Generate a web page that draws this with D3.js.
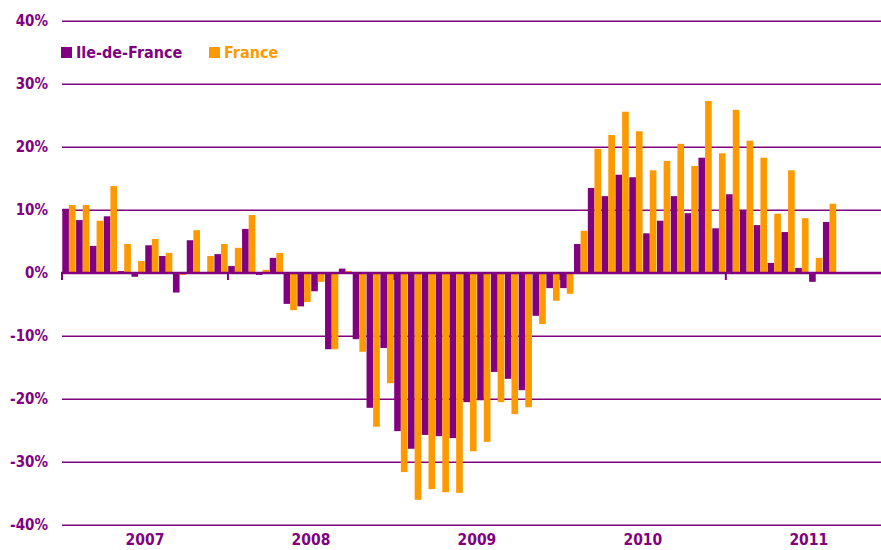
<!DOCTYPE html>
<html><head><meta charset="utf-8">
<script src="https://cdn.jsdelivr.net/npm/d3@7"></script>
<style>body{margin:0;background:#fff}svg{display:block}text{font-family:"DejaVu Sans Condensed","DejaVu Sans",sans-serif;font-weight:bold}</style>
</head><body>
<svg id="c" width="881" height="550"></svg>
<script>
const categories = [
 "2007-01","2007-02","2007-03","2007-04","2007-05","2007-06","2007-07","2007-08","2007-09","2007-10","2007-11","2007-12",
 "2008-01","2008-02","2008-03","2008-04","2008-05","2008-06","2008-07","2008-08","2008-09","2008-10","2008-11","2008-12",
 "2009-01","2009-02","2009-03","2009-04","2009-05","2009-06","2009-07","2009-08","2009-09","2009-10","2009-11","2009-12",
 "2010-01","2010-02","2010-03","2010-04","2010-05","2010-06","2010-07","2010-08","2010-09","2010-10","2010-11","2010-12",
 "2011-01","2011-02","2011-03","2011-04","2011-05","2011-06","2011-07","2011-08","2011-09","2011-10","2011-11","2011-12"];
const seriesNames = ["Ile-de-France","France"];
const ileDeFrance = [10.2,8.4,4.3,9.0,0.3,-0.6,4.4,2.7,-3.1,5.2,0,3.0,
 1.1,7.0,-0.3,2.4,-4.9,-5.3,-2.9,-12.1,0.7,-10.5,-21.4,-11.9,
 -25.1,-27.9,-25.7,-25.9,-26.2,-20.5,-20.2,-15.7,-16.8,-18.6,-6.8,-2.4,
 -2.4,4.6,13.5,12.2,15.6,15.2,6.3,8.3,12.2,9.5,18.3,7.1,
 12.5,10.0,7.6,1.6,6.5,0.8,-1.4,8.1];
const france = [10.8,10.8,8.3,13.8,4.6,1.9,5.4,3.2,-0.3,6.8,2.7,4.6,
 4.0,9.2,0.5,3.2,-5.9,-4.6,-1.4,-12.1,0.3,-12.5,-24.4,-17.5,
 -31.6,-36.0,-34.3,-34.8,-34.9,-28.3,-26.8,-20.5,-22.4,-21.3,-8.1,-4.4,
 -3.3,6.7,19.7,21.9,25.6,22.5,16.3,17.8,20.5,17.0,27.3,19.0,
 25.9,21.0,18.3,9.4,16.3,8.7,2.4,11.0];
const yTicks = [-40,-30,-20,-10,0,10,20,30,40];
const yearLabels = ["2007","2008","2009","2010","2011"];

const purple = "#800080", orange = "#FF9900";
const svg = d3.select("#c");
const left = 62, step = 13.83;
const x = d3.scaleBand().domain(categories).range([left, left + step*categories.length]).paddingInner(0.04).paddingOuter(0.02);
const xs = d3.scaleBand().domain(seriesNames).range([0, x.bandwidth()]).padding(0);
const y = d3.scaleLinear().domain([-40,40]).range([525,21]);

// gridlines
svg.append("g").selectAll("line").data(yTicks.filter(d=>d!==0)).join("line")
  .attr("x1", left).attr("x2", 881).attr("y1", d=>y(d)+0.3).attr("y2", d=>y(d)+0.3)
  .attr("stroke", purple).attr("stroke-width", 1.4);

// y labels
svg.append("g").selectAll("text").data(yTicks).join("text")
  .attr("x", 48).attr("y", d=>y(d)).attr("dy","0.36em").attr("text-anchor","end")
  .attr("fill", purple).attr("font-size", 15).text(d=>d+"%");

// axis ticks every 12 months
const tickIdx = d3.range(0, categories.length, 12);
svg.append("g").selectAll("line").data(tickIdx).join("line")
  .attr("x1", i=>x.step()*i + left).attr("x2", i=>x.step()*i + left)
  .attr("y1", y(0)).attr("y2", y(0)+7).attr("stroke", purple).attr("stroke-width", 2);

// bars
const groups = svg.append("g").selectAll("g").data(categories.slice(0, ileDeFrance.length)).join("g")
  .attr("transform", d=>`translate(${x(d)},0)`);
groups.each(function(d,i){
  const vals = [ileDeFrance[i], france[i]];
  d3.select(this).selectAll("rect").data(vals).join("rect")
    .attr("x",(v,j)=>xs(seriesNames[j]))
    .attr("width", xs.bandwidth())
    .attr("y", v=>Math.min(y(v), y(0)))
    .attr("height", v=>Math.abs(y(v)-y(0)))
    .attr("fill",(v,j)=> j===0 ? purple : orange);
});

// zero line
svg.append("line").attr("x1", left-1).attr("x2", 881).attr("y1", y(0)).attr("y2", y(0))
  .attr("stroke", purple).attr("stroke-width", 2.5);

// year labels
svg.append("g").selectAll("text").data(yearLabels).join("text")
  .attr("x", (d,i)=> left + x.step()*(i*12+6))
  .attr("y", 545).attr("text-anchor","middle").attr("fill", purple).attr("font-size", 15.5).text(d=>d);

// legend
const leg = [{name:seriesNames[0], c:purple, x:61},{name:seriesNames[1], c:orange, x:209}];
const lg = svg.append("g").selectAll("g").data(leg).join("g").attr("transform", d=>`translate(${d.x},47)`);
lg.append("rect").attr("width", 11).attr("height", 11).attr("fill", d=>d.c);
lg.append("text").attr("x", 15).attr("y", 11).attr("font-size", 16).attr("fill", d=>d.c).text(d=>d.name);
</script>
</body></html>
